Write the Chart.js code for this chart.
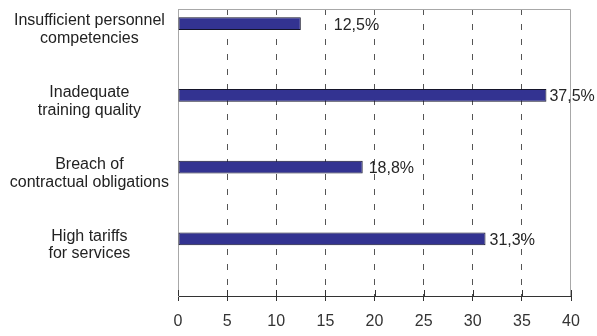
<!DOCTYPE html>
<html>
<head>
<meta charset="utf-8">
<script src="https://cdn.jsdelivr.net/npm/chart.js@4/dist/chart.umd.min.js"></script>
<style>
  html, body { margin: 0; padding: 0; background: #fff; }
  #wrap { width: 597px; height: 336px; }
</style>
</head>
<body>
<div id="wrap"><canvas id="grafico" width="597" height="336"></canvas></div>
<script>
// categorias e valores (%)
const categorias = [
    ["Insufficient personnel", "competencies"],
    ["Inadequate", "training quality"],
    ["Breach of", "contractual obligations"],
    ["High tariffs", "for services"]
];
const valores = [12.5, 37.5, 18.8, 31.3];
const rotulos = ["12,5%", "37,5%", "18,8%", "31,3%"];
const ticksX = [0, 5, 10, 15, 20, 25, 30, 35, 40];

const fonte = "'Liberation Sans', Arial, sans-serif";

// moldura cinza + marcas internas do eixo x
const moldura = {
    id: "moldura",
    beforeDatasetsDraw(chart) {
        const { ctx, chartArea: a } = chart;
        const x = chart.scales.x;
        ctx.save();
        ctx.strokeStyle = "#a8a8a8";
        ctx.lineWidth = 1;
        ctx.beginPath();
        ctx.moveTo(a.left + 0.5, a.bottom);
        ctx.lineTo(a.left + 0.5, a.top + 0.5);
        ctx.lineTo(a.right - 0.5, a.top + 0.5);
        ctx.lineTo(a.right - 0.5, a.bottom);
        ctx.stroke();
        ctx.strokeStyle = "#333";
        ctx.beginPath();
        ticksX.forEach(v => {
            const px = Math.round(x.getPixelForValue(v)) + 0.5;
            ctx.moveTo(px, a.bottom - 6);
            ctx.lineTo(px, a.bottom);
        });
        ctx.stroke();
        ctx.restore();
    }
};

// rótulos de valor à direita das barras
const rotulosBarras = {
    id: "rotulosBarras",
    afterDatasetsDraw(chart, args, opts) {
        const { ctx } = chart;
        const meta = chart.getDatasetMeta(0);
        ctx.save();
        ctx.font = "16px " + fonte;
        ctx.fillStyle = "#262626";
        ctx.textBaseline = "middle";
        ctx.textAlign = "left";
        meta.data.forEach((bar, i) => {
            const extra = (opts.extra && opts.extra[i]) || 0;
            ctx.fillText(rotulos[i], bar.x + 3 + extra, bar.y + 1.5);
        });
        ctx.restore();
    }
};

const ctx = document.getElementById("grafico").getContext("2d");

new Chart(ctx, {
    type: "bar",
    data: {
        labels: categorias,
        datasets: [
            {
                data: valores,
                backgroundColor: "#333391",
                borderColor: "#14142a",
                borderWidth: 1,
                borderSkipped: false,
                categoryPercentage: 1.18,
                barPercentage: 0.3
            },
            {
                // série vazia (reserva o espaço inferior de cada categoria)
                data: [null, null, null, null],
                categoryPercentage: 1.18,
                barPercentage: 0.3
            }
        ]
    },
    options: {
        indexAxis: "y",
        responsive: false,
        animation: false,
        layout: { padding: { top: 9, right: 26, left: 0, bottom: 0 } },
        plugins: {
            legend: { display: false },
            tooltip: { enabled: false },
            rotulosBarras: { extra: [30, 0, 3, 1] }
        },
        scales: {
            x: {
                min: 0,
                max: 40,
                afterFit: s => { s.height = 40; },
                afterBuildTicks: s => { s.ticks = ticksX.map(v => ({ value: v })); },
                ticks: {
                    stepSize: 5,
                    padding: 11,
                    color: "#333",
                    font: { family: fonte, size: 16 }
                },
                grid: {
                    color: c => (c.tick && (c.tick.value === 0 || c.tick.value === 40)) ? "rgba(0,0,0,0)" : "#555",
                    tickColor: "#333",
                    tickLength: 5,
                    lineWidth: 1
                },
                border: {
                    color: "#333",
                    width: 1,
                    dash: [6, 9]
                }
            },
            y: {
                afterFit: s => {
                    s.width = 178;
                    s.paddingTop = 0;
                    s.paddingBottom = 0;
                },
                ticks: {
                    crossAlign: "center",
                    padding: 9,
                    labelOffset: -15,
                    color: "#222",
                    font: { family: fonte, size: 16, lineHeight: 1.1 }
                },
                grid: { display: false, drawTicks: false },
                border: { color: "#a8a8a8", width: 1 }
            }
        }
    },
    plugins: [moldura, rotulosBarras]
});
</script>
</body>
</html>
